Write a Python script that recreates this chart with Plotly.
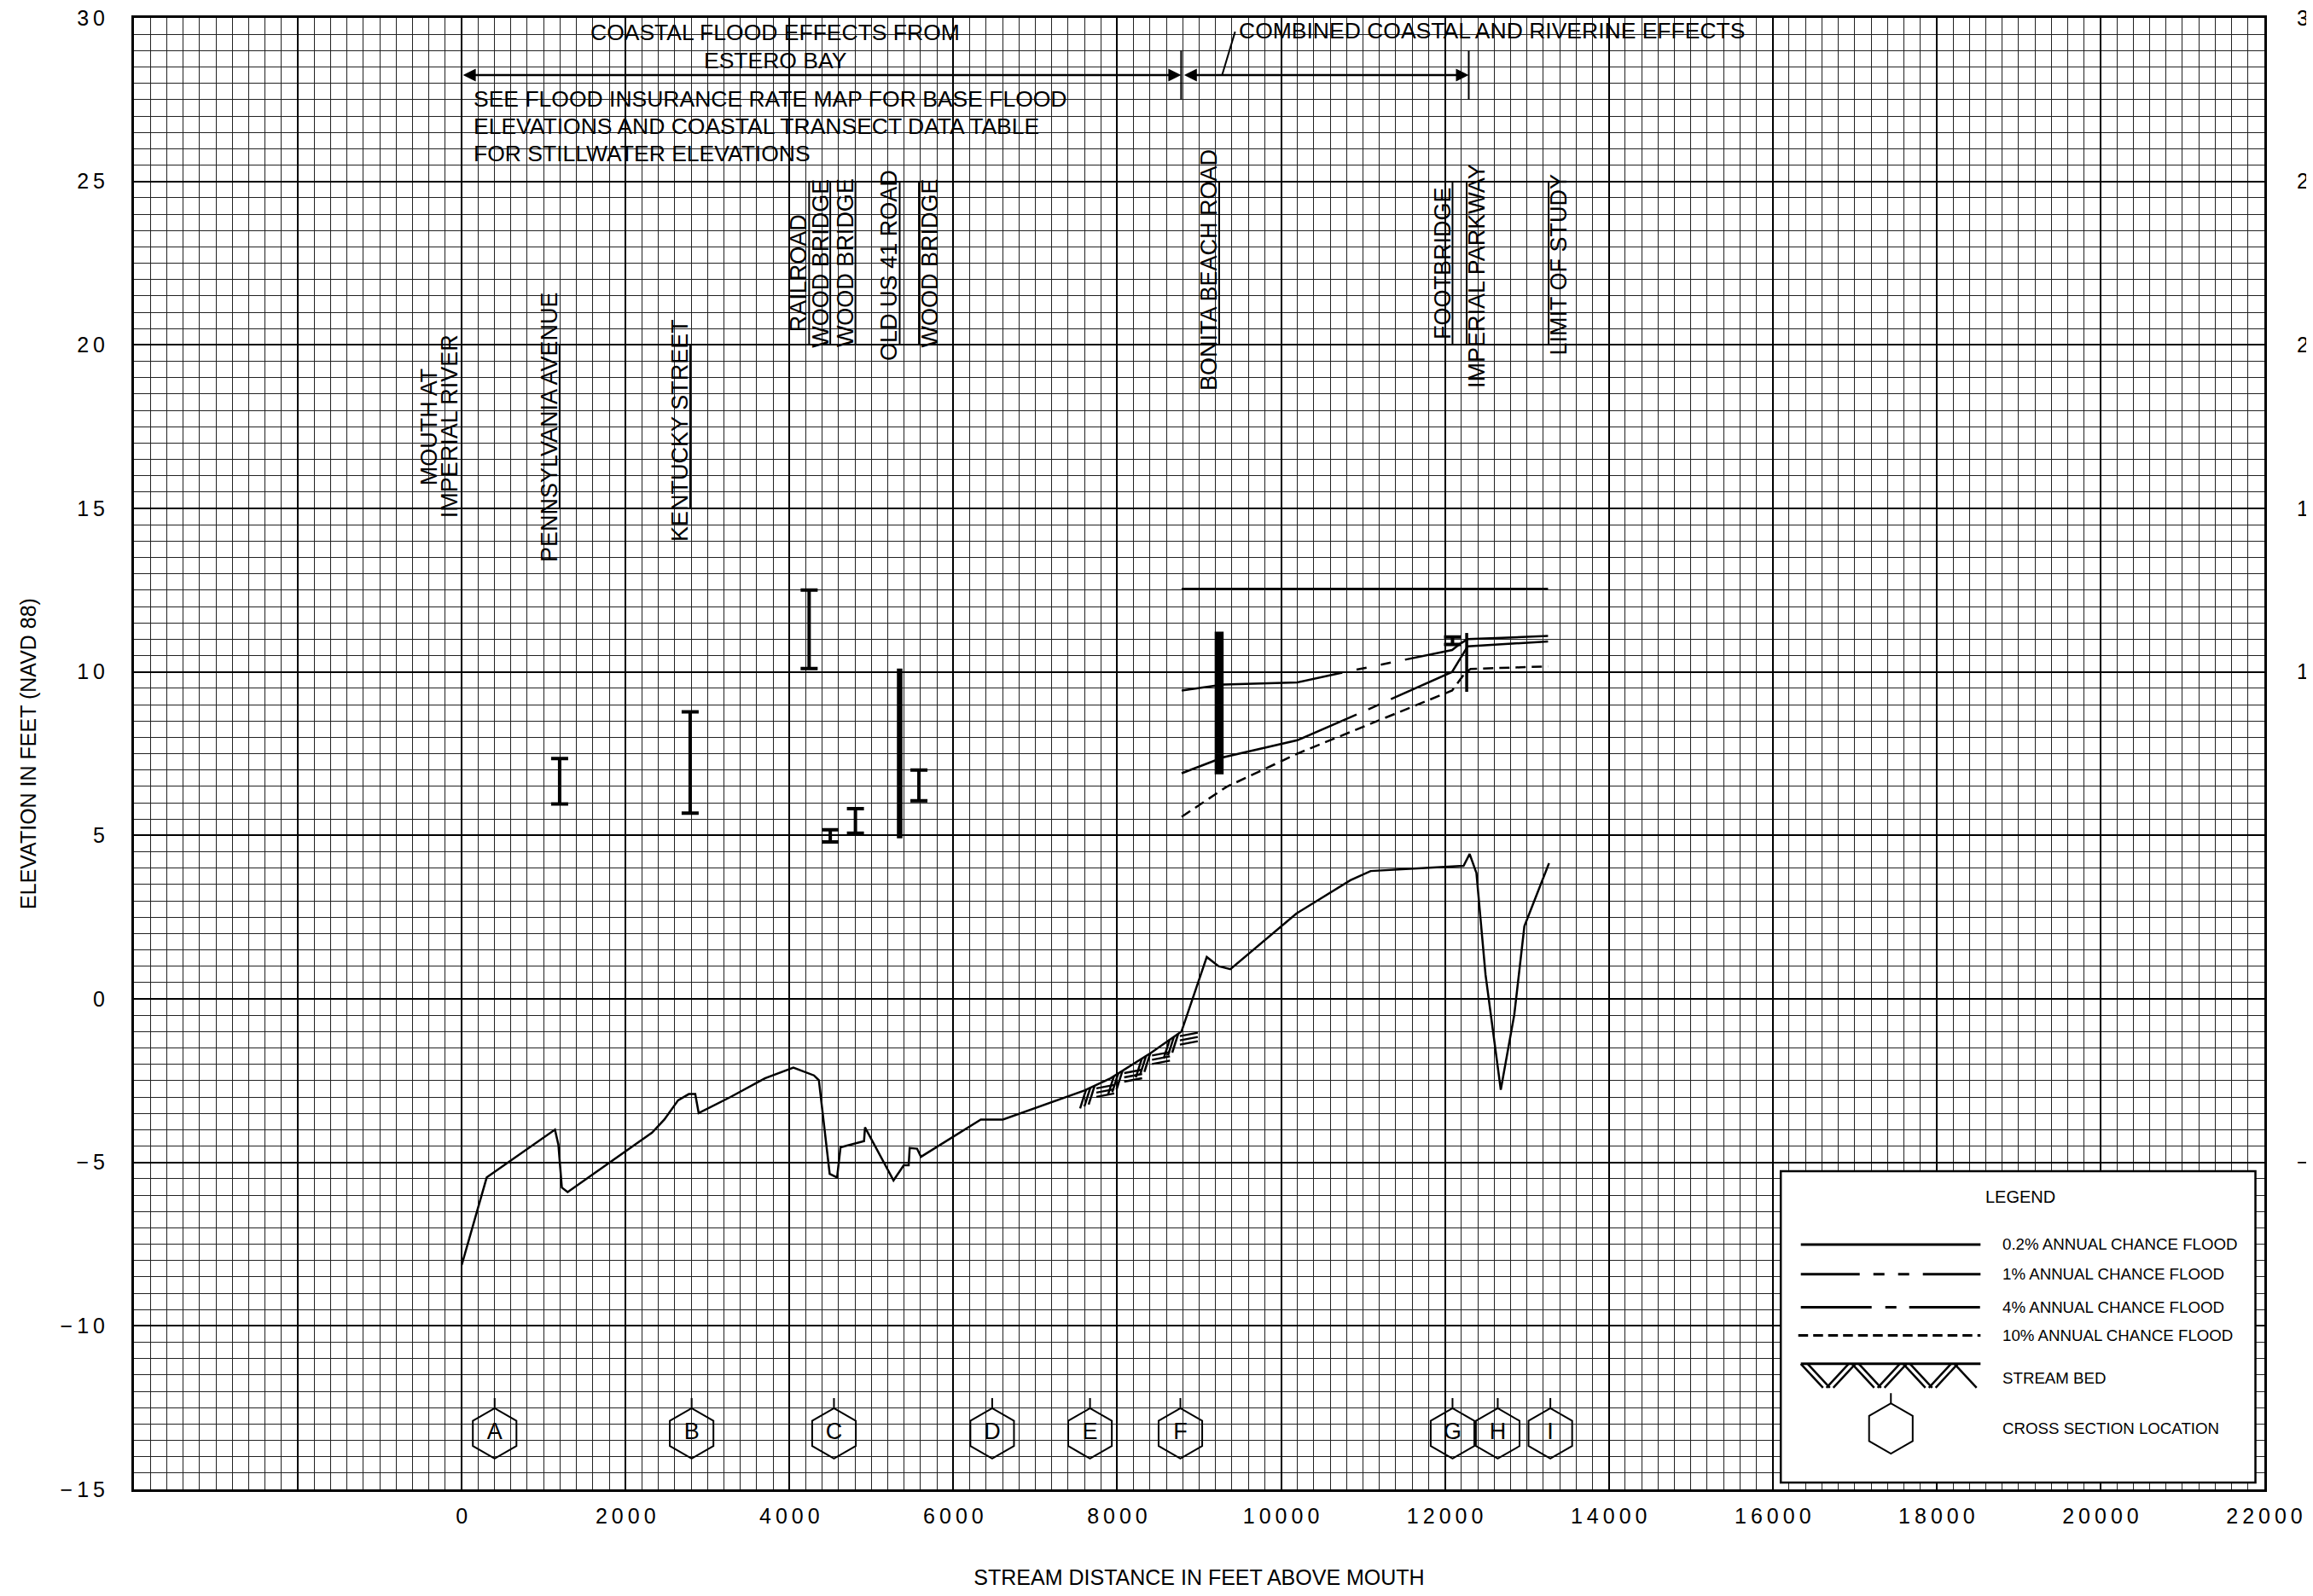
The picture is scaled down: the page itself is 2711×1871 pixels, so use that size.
import numpy as np
import plotly.graph_objects as go

FONT = "Liberation Sans, Arial, Helvetica, sans-serif"

# ---------------- axes ----------------
X_RANGE = [-4000, 22000]
Y_RANGE = [-15, 30]
x_tick_vals = [-4000, -2000, 0, 2000, 4000, 6000, 8000, 10000, 12000, 14000,
               16000, 18000, 20000, 22000]
x_tick_text = ["", "", "0", "2000", "4000", "6000", "8000", "10000", "12000",
               "14000", "16000", "18000", "20000", "22000"]
y_tick_vals = [-15, -10, -5, 0, 5, 10, 15, 20, 25, 30]
y_tick_text = ["−15", "−10", "−5", "0", "5", "10", "15", "20", "25", "30"]
# right-hand labels (only the ones the original shows, cut by the page edge)
y2_tick_text = ["", "", "−5", "", "", "10", "15", "20", "25", "30"]

# ---------------- stream bed (distance ft, elevation ft) ----------------
bed_x = [0, 305, 1138, 1180, 1222, 1293, 2323, 2473, 2641, 2772, 2850, 2892,
         3281, 3700, 4048, 4299, 4359, 4491, 4581, 4623, 4910, 4922, 5270,
         5395, 5455, 5467, 5557, 5605, 6335, 6605, 7600, 7918, 8412, 8784,
         9093, 9237, 9381, 10186, 10846, 11093, 12227, 12301, 12384, 12495,
         12681, 12846, 12969, 13270]
bed_y = [-8.14, -5.46, -4.00, -4.46, -5.77, -5.91, -4.09, -3.69, -3.10, -2.91,
         -2.91, -3.49, -3.00, -2.43, -2.10, -2.34, -2.49, -5.35, -5.46, -4.54,
         -4.35, -3.93, -5.55, -5.09, -5.09, -4.56, -4.58, -4.83, -3.69, -3.69,
         -2.80, -2.43, -1.65, -1.00, 1.28, 1.00, 0.91, 2.61, 3.63, 3.91, 4.07,
         4.43, 3.85, 0.74, -2.78, -0.48, 2.22, 4.15]

# ---------------- flood profiles ----------------
p02_x = [8787, 13258]
p02_y = [12.54, 12.54]
p1_x = [8787, 9296, 10198, 10752, 12087, 12190, 12277, 13258]
p1_y = [9.43, 9.61, 9.68, 9.98, 10.67, 10.87, 11.00, 11.10]
p4_x = [8787, 9296, 10198, 10925, 12087, 12277, 13258]
p4_y = [6.90, 7.39, 7.91, 8.70, 10.00, 10.78, 10.93]
p10_x = [8787, 9331, 10198, 12087, 12243, 12312, 13258]
p10_y = [5.57, 6.48, 7.50, 9.43, 9.96, 10.09, 10.17]

# ---------------- structures ----------------
st_name = ["PENNSYLVANIA AVENUE", "KENTUCKY STREET", "RAILROAD", "WOOD BRIDGE",
           "WOOD BRIDGE", "OLD US 41 ROAD", "WOOD BRIDGE", "BONITA BEACH ROAD",
           "FOOTBRIDGE", "IMPERIAL PARKWAY", "LIMIT OF STUDY"]
st_x = [1195, 2788, 4240, 4498, 4805, 5345, 5580, 9244, 12092, 12265, 13265]
st_low = [5.96, 5.68, 10.10, 4.80, 5.07, 4.91, 6.06, 6.87, 10.84, 9.39, None]
st_high = [7.35, 8.78, 12.50, 5.17, 5.82, 10.10, 7.00, 11.23, 11.07, 11.19, None]
st_kind = ["ibeam", "ibeam", "ibeam", "ibeam", "ibeam", "bar", "ibeam", "bar",
           "ibeam", "bar", None]
lbl_y = [17.5, 17.4, 22.2, 22.5, 22.5, 22.45, 22.5, 22.3, 22.5, 22.1, 22.45]
lbl_line_lo = [15, 15, 20, 20, 20, 20, 20, 20, 20, 20, 20]
lbl_line_hi = [20, 20, 25, 25, 25, 25, 25, 25, 25, 25, 25]
lbl_side = ["L", "L", "L", "L", "L", "L", "R", "L", "L", "R", "R"]
mouth_lines = ["MOUTH AT", "IMPERIAL RIVER"]
mouth_x = 0
mouth_y = 17.5

# ---------------- cross sections ----------------
xs_letter = ["A", "B", "C", "D", "E", "F", "G", "H", "I"]
xs_x = [402, 2806, 4543, 6474, 7668, 8771, 12092, 12644, 13286]
xs_elev = -13.29

# ---------------- reach notes ----------------
coastal_reach = [0, 8780]
combined_reach = [8800, 12290]
reach_arrow_elev = 28.25

legend_labels = ["0.2% ANNUAL CHANCE FLOOD", "1% ANNUAL CHANCE FLOOD",
                 "4% ANNUAL CHANCE FLOOD", "10% ANNUAL CHANCE FLOOD",
                 "STREAM BED", "CROSS SECTION LOCATION"]

# ---------------- page geometry ----------------
# the browser's default 8px body margin offsets the figure, so compensate
PAGE_OFF = 8
W, H = 2711 - PAGE_OFF, 1871 - 2 * PAGE_OFF
L_M, T_M = 157 - PAGE_OFF, 21 - PAGE_OFF
R_M = W - (2654 - PAGE_OFF)
B_M = H - (1746 - PAGE_OFF)
PX_X = (X_RANGE[1] - X_RANGE[0]) / (W - L_M - R_M)
PX_Y = (Y_RANGE[1] - Y_RANGE[0]) / (H - T_M - B_M)


def spaced(s):
    return "\u2009".join(s)


def segs(pairs):
    xs, ys = [], []
    for (x0, y0, x1, y1) in pairs:
        xs += [x0, x1, None]
        ys += [y0, y1, None]
    return xs, ys


fig = go.Figure()


def add_line(x, y, width=2.5, dash="solid", yaxis="y"):
    fig.add_trace(go.Scatter(x=x, y=y, mode="lines", hoverinfo="skip",
                             line=dict(color="black", width=width, dash=dash),
                             showlegend=False, yaxis=yaxis))


# stream bed
add_line(bed_x, bed_y, 2.5)

# stream bed hatching (derived from the bed profile)
pairs = []
for gx in np.arange(7620, 8720, 340):
    for j in range(3):
        xb = gx + j * 5 * PX_X
        yb = float(np.interp(xb, bed_x, bed_y))
        pairs.append((xb, yb, xb - 7 * PX_X, yb - 22 * PX_Y))
    for j in range(3):
        xs0 = gx + 12 * PX_X
        yb = float(np.interp(xs0, bed_x, bed_y)) - (4 + 5 * j) * PX_Y
        pairs.append((xs0, yb, xs0 + 21 * PX_X, yb + 4 * PX_Y))
hx, hy = segs(pairs)
add_line(hx, hy, 2.5)

# flood profiles
add_line(p02_x, p02_y, 2.5)
add_line(p1_x, p1_y, 2.5, "190px,17px,12px,17px,12px,17px")
add_line(p4_x, p4_y, 2.5, "217px,15px,14px,15px")
add_line(p10_x, p10_y, 2.5, "12px,7px")

# structures: I-beams
ib = [i for i, k in enumerate(st_kind) if k == "ibeam"]
fig.add_trace(go.Scatter(
    x=[st_x[i] for i in ib],
    y=[(st_low[i] + st_high[i]) / 2 for i in ib],
    mode="markers", marker=dict(size=1, color="rgba(0,0,0,0)"),
    error_y=dict(type="data", symmetric=True,
                 array=[(st_high[i] - st_low[i]) / 2 for i in ib],
                 color="black", thickness=4, width=10),
    hoverinfo="skip", showlegend=False))
# structures: solid bars
bar_w = {"OLD US 41 ROAD": 6.5, "BONITA BEACH ROAD": 10.5, "IMPERIAL PARKWAY": 3.5}
for i, k in enumerate(st_kind):
    if k == "bar":
        add_line([st_x[i], st_x[i]], [st_low[i], st_high[i]], bar_w[st_name[i]])

# label leader lines
lx, ly = segs([(st_x[i], lbl_line_lo[i], st_x[i], lbl_line_hi[i])
               for i in range(len(st_x))])
add_line(lx, ly, 2)

LBL_FONT = dict(size=27, family=FONT, color="black")
NOTE_FONT = dict(size=26.5, family=FONT, color="black")
annotations = []
for i, name in enumerate(st_name):
    annotations.append(dict(
        x=st_x[i], y=lbl_y[i], xref="x", yref="y", text=name, textangle=-90,
        showarrow=False, xanchor="center", yanchor="middle",
        xshift=-12 if lbl_side[i] == "L" else 12, font=LBL_FONT))
for k, t in enumerate(mouth_lines):
    annotations.append(dict(
        x=mouth_x, y=mouth_y, xref="x", yref="y", text=t, textangle=-90,
        showarrow=False, xanchor="center", yanchor="middle",
        xshift=-38 + 24 * k, font=LBL_FONT))

# cross sections
fig.add_trace(go.Scatter(
    x=xs_x, y=[xs_elev] * len(xs_x), mode="markers+text", text=xs_letter,
    textposition="middle center", textfont=dict(size=27, family=FONT, color="black"),
    marker=dict(symbol="hexagon-open", size=59, color="black", line=dict(width=2)),
    hoverinfo="skip", showlegend=False))
tx, ty = segs([(x, xs_elev + 29.5 * PX_Y, x, xs_elev + 41.5 * PX_Y) for x in xs_x])
add_line(tx, ty, 2)

# reach notes
for r in (coastal_reach, combined_reach):
    annotations.append(dict(
        x=r[1], y=reach_arrow_elev, ax=r[0], ay=reach_arrow_elev,
        xref="x", yref="y", axref="x", ayref="y", text="", showarrow=True,
        arrowhead=2, arrowside="end+start", arrowsize=1.2, arrowwidth=2.5,
        arrowcolor="black"))
rx, ry = segs([(coastal_reach[1], 27.5, coastal_reach[1], 29.0),
               (combined_reach[1], 27.5, combined_reach[1], 29.0),
               (9280, reach_arrow_elev, 9439, 29.58)])
add_line(rx, ry, 2)

top_notes = [
    (3827, 29.55, "COASTAL FLOOD EFFECTS FROM", "center"),
    (3827, 28.70, "ESTERO BAY", "center"),
    (9461, 29.62, "COMBINED COASTAL AND RIVERINE EFFECTS", "left"),
    (128, 27.52, "SEE FLOOD INSURANCE RATE MAP FOR BASE FLOOD", "left"),
    (128, 26.68, "ELEVATIONS AND COASTAL TRANSECT DATA TABLE", "left"),
    (128, 25.84, "FOR STILLWATER ELEVATIONS", "left"),
]
for (x, y, t, a) in top_notes:
    annotations.append(dict(x=x, y=y, xref="x", yref="y", text=t, showarrow=False,
                            xanchor=a, yanchor="middle", font=NOTE_FONT))

# ---------------- legend box ----------------
LG_X0, LG_X1, LG_Y0, LG_Y1 = 16098, 21891, -14.79, -5.27
shapes = [dict(type="rect", xref="x", yref="y", x0=LG_X0, x1=LG_X1, y0=LG_Y0, y1=LG_Y1,
               line=dict(color="black", width=2.5), fillcolor="white", layer="between")]
SX0, SX1, TX = 16343, 18536, 18786
row_y = [-7.51, -8.42, -9.43, -10.29, -11.16, -13.14]
add_line([SX0, SX1], [row_y[0]] * 2, 3)
add_line([SX0, SX1], [row_y[1]] * 2, 3, "69px,16px,13px,16px,13px,16px")
add_line([SX0, SX1], [row_y[2]] * 2, 3, "83px,16px,13px,15px")
add_line([SX0 - 3 * PX_X, SX1], [row_y[3]] * 2, 3, "11.5px,6px")
add_line([SX0, SX1], [row_y[4]] * 2, 3)
lp = []
top = row_y[4]
for p in np.arange(0, 211, 60):
    for off in (0, 8):
        a = p + off
        if a + 26 <= 211:
            lp.append((SX0 + a * PX_X, top, SX0 + (a + 26) * PX_X, top - 28 * PX_Y))
        b = p + 30 + off
        if b + 26 <= 211:
            lp.append((SX0 + b * PX_X, top - 28 * PX_Y, SX0 + (b + 26) * PX_X, top))
lhx, lhy = segs(lp)
add_line(lhx, lhy, 2.5)
LG_HEX_X = 17442
fig.add_trace(go.Scatter(x=[LG_HEX_X], y=[row_y[5]], mode="markers",
                         marker=dict(symbol="hexagon-open", size=59, color="black",
                                     line=dict(width=2)),
                         hoverinfo="skip", showlegend=False))
add_line([LG_HEX_X, LG_HEX_X], [row_y[5] + 29.5 * PX_Y, row_y[5] + 41.5 * PX_Y], 2)
annotations.append(dict(x=19019, y=-6.05, xref="x", yref="y", text="LEGEND",
                        showarrow=False, xanchor="center", yanchor="middle",
                        font=dict(size=20, family=FONT, color="black")))
for lab, yy in zip(legend_labels, [row_y[0], row_y[1], row_y[2], row_y[3], -11.6, row_y[5]]):
    annotations.append(dict(x=TX, y=yy, xref="x", yref="y", text=lab, showarrow=False,
                            xanchor="left", yanchor="middle",
                            font=dict(size=18.7, family=FONT, color="black")))

# dummy trace for right axis
fig.add_trace(go.Scatter(x=[0], y=[0], yaxis="y2", mode="markers",
                         marker=dict(opacity=0), hoverinfo="skip", showlegend=False))

axis_common = dict(showgrid=True, gridcolor="black", gridwidth=2, zeroline=False,
                   showline=True, linecolor="black", linewidth=3, mirror=True,
                   ticks="", tickmode="array", automargin=False,
                   ticklabeloverflow="allow")
fig.update_layout(
    width=W, height=H,
    margin=dict(l=L_M, r=R_M, t=T_M, b=B_M, autoexpand=False),
    paper_bgcolor="white", plot_bgcolor="white",
    font=dict(family=FONT, color="black"),
    showlegend=False,
    xaxis=dict(range=X_RANGE, tickvals=x_tick_vals,
               ticktext=[spaced(t) for t in x_tick_text],
               tickfont=dict(size=25), ticklabelstandoff=7,
               minor=dict(dtick=200, tick0=0, showgrid=True, gridcolor="#222", gridwidth=1),
               title=dict(text="STREAM DISTANCE IN FEET ABOVE MOUTH",
                          font=dict(size=25), standoff=60),
               **axis_common),
    yaxis=dict(range=Y_RANGE, tickvals=y_tick_vals,
               ticktext=[spaced(t) for t in y_tick_text],
               tickfont=dict(size=25), ticklabelstandoff=26,
               minor=dict(dtick=0.5, tick0=0, showgrid=True, gridcolor="#222", gridwidth=1),
               title=dict(text="ELEVATION IN FEET (NAVD 88)", font=dict(size=25), standoff=21),
               **axis_common),
    yaxis2=dict(range=Y_RANGE, overlaying="y", side="right", tickmode="array",
                tickvals=y_tick_vals, ticktext=[spaced(t) for t in y2_tick_text],
                showgrid=False, zeroline=False, showline=False, ticks="",
                automargin=False, ticklabeloverflow="allow",
                tickfont=dict(size=25), ticklabelstandoff=37),
    annotations=annotations,
    shapes=shapes,
)

fig.write_html("out.html")
